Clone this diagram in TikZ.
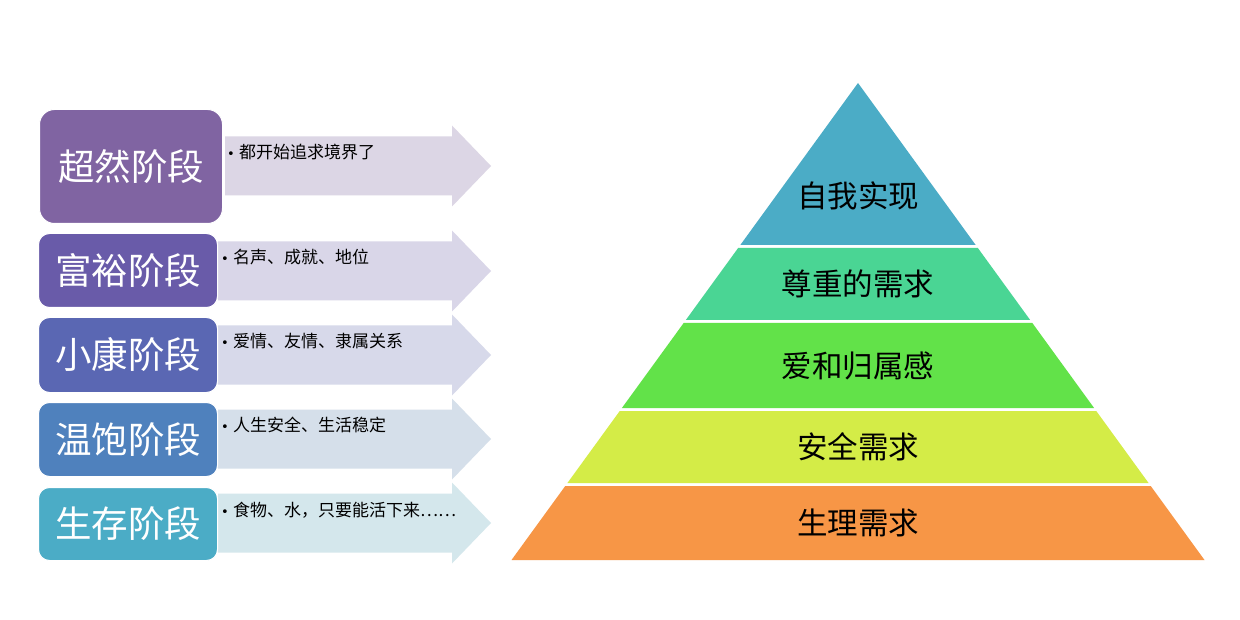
\documentclass[tikz,border=0pt]{standalone}
\usepackage{fontspec}
\setmainfont{Noto Sans CJK SC}
\newfontfamily\bulletfont{DejaVu Sans}
\definecolor{boxA}{HTML}{8064A2}
\definecolor{boxB}{HTML}{695BA9}
\definecolor{boxC}{HTML}{5A67B3}
\definecolor{boxD}{HTML}{4F81BD}
\definecolor{boxE}{HTML}{4BACC6}
\definecolor{arrA}{HTML}{DCD6E5}
\definecolor{arrB}{HTML}{D9D6E8}
\definecolor{arrC}{HTML}{D7D9EA}
\definecolor{arrD}{HTML}{D5DFEA}
\definecolor{arrE}{HTML}{D4E7EC}
\definecolor{tierA}{HTML}{4BACC6}
\definecolor{tierB}{HTML}{4AD594}
\definecolor{tierC}{HTML}{62E249}
\definecolor{tierD}{HTML}{D4EC47}
\definecolor{tierE}{HTML}{F79646}
\tikzset{
  stagebox/.style={draw=white, line width=1pt, rounded corners=11pt, text=white,
    font=\fontsize{36.5}{40}\selectfont, inner sep=0pt},
  bullettext/.style={anchor=west, inner sep=0pt, text=black, font=\fontsize{17}{20}\selectfont},
  tierlabel/.style={inner sep=0pt, text=black, font=\fontsize{30.5}{34}\selectfont},
}
\newcommand{\bul}{\makebox[12pt][l]{{\bulletfont\fontsize{13}{14}\selectfont •}}}
% arrow: #1 left x, #2 tip y, #3 colour
\newcommand{\flowarrow}[3]{%
  \fill[#3] (#1,#2-29.5) -- (452,#2-29.5) -- (452,#2-40.5) -- (491,#2) -- (452,#2+40.5) -- (452,#2+29.5) -- (#1,#2+29.5) -- cycle;}
% pyramid tier: #1 top y, #2 bottom y, #3 colour
\newcommand{\tier}[3]{%
  \fill[#3] ({858-0.7264*(#1-83)},#1) -- ({858+0.7264*(#1-83)},#1) -- ({858+0.7264*(#2-83)},#2) -- ({858-0.7264*(#2-83)},#2) -- cycle;}
\begin{document}
\begin{tikzpicture}[x=1pt,y=-1pt]
\useasboundingbox[fill=white] (0,0) rectangle (1240,620);
% arrows
\flowarrow{225}{166}{arrA}
\flowarrow{218}{271}{arrB}
\flowarrow{218}{355}{arrC}
\flowarrow{218}{439}{arrD}
\flowarrow{218}{523}{arrE}
% arrow texts
\node[bullettext] (ta) at (227,152) {\bul 都开始追求境界了};
\node[bullettext] (tb) at (221,257) {\bul 名声、成就、地位};
\node[bullettext] (tc) at (221,341) {\bul 爱情、友情、隶属关系};
\node[bullettext] (td) at (221,425) {\bul 人生安全、生活稳定};
\node[bullettext] (te) at (221,510) {\bul 食物、水，只要能活下来……};
% stage boxes
\node[stagebox, fill=boxA, rounded corners=15pt, minimum width=183pt, minimum height=114pt] (sa) at (131,166.5) {超然阶段};
\node[stagebox, fill=boxB, minimum width=179pt, minimum height=74pt] (sb) at (128,270.5) {富裕阶段};
\node[stagebox, fill=boxC, minimum width=179pt, minimum height=75pt] (sc) at (128,355) {小康阶段};
\node[stagebox, fill=boxD, minimum width=179pt, minimum height=74pt] (sd) at (128,439.5) {温饱阶段};
\node[stagebox, fill=boxE, minimum width=179pt, minimum height=73pt] (se) at (128,524) {生存阶段};
% pyramid
\tier{83}{245}{tierA}
\tier{248}{320}{tierB}
\tier{323}{408}{tierC}
\tier{411}{483}{tierD}
\tier{486}{560}{tierE}
\node[tierlabel] (pa) at (858,196) {自我实现};
\node[tierlabel] (pb) at (858,284) {尊重的需求};
\node[tierlabel] (pc) at (858,366) {爱和归属感};
\node[tierlabel] (pd) at (858,447) {安全需求};
\node[tierlabel] (pe) at (858,523) {生理需求};
\end{tikzpicture}
\end{document}
